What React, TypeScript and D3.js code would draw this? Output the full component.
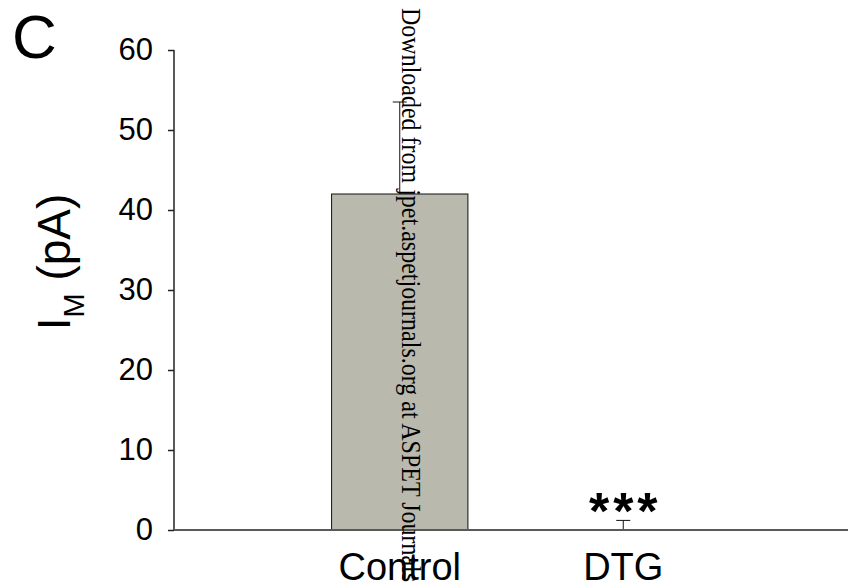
import React, { useEffect, useRef } from "react";
import * as d3 from "d3";

const categories = ["Control", "DTG"];
const means = [42, 0];
const errors = [11.5, 1.2];
const yTicks = [0, 10, 20, 30, 40, 50, 60];
const sigLabels = ["", "***"];

export default function App() {
  const svgRef = useRef<SVGSVGElement>(null);

  useEffect(() => {
    const width = 860, height = 588;
    const svg = d3.select(svgRef.current);
    svg.selectAll("*").remove();
    svg.attr("width", width).attr("height", height);

    const font = "Arial, 'Liberation Sans', sans-serif";

    const y = d3.scaleLinear().domain([0, 60]).range([530, 50]);
    const x = d3.scaleBand()
      .domain(categories)
      .range([288, 735])
      .paddingInner(0.39)
      .paddingOuter(0.195);

    // bars
    svg.selectAll("rect.bar")
      .data(categories.filter((d, i) => means[i] > 0))
      .enter()
      .append("rect")
      .attr("class", "bar")
      .attr("x", d => x(d)!)
      .attr("y", d => y(means[categories.indexOf(d)]))
      .attr("width", x.bandwidth())
      .attr("height", d => y(0) - y(means[categories.indexOf(d)]))
      .attr("fill", "#b9b9ad")
      .attr("stroke", "#111")
      .attr("stroke-width", 1);

    // error bars (upper only)
    categories.forEach((c, i) => {
      const cx = x(c)! + x.bandwidth() / 2;
      const top = y(means[i] + errors[i]);
      svg.append("line")
        .attr("x1", cx).attr("x2", cx)
        .attr("y1", y(means[i])).attr("y2", top)
        .attr("stroke", "#111").attr("stroke-width", 1);
      svg.append("line")
        .attr("x1", cx - 7).attr("x2", cx + 7)
        .attr("y1", top).attr("y2", top)
        .attr("stroke", "#111").attr("stroke-width", 1);
      if (sigLabels[i]) {
        svg.append("text")
          .attr("x", cx + 2)
          .attr("y", 529)
          .attr("text-anchor", "middle")
          .attr("font-family", font)
          .attr("font-weight", "bold")
          .attr("font-size", 52)
          .attr("letter-spacing", 4)
          .text(sigLabels[i]);
      }
      svg.append("text")
        .attr("x", cx)
        .attr("y", 580)
        .attr("text-anchor", "middle")
        .attr("font-family", font)
        .attr("font-size", 38)
        .text(c);
    });

    // y axis
    const yAxis = d3.axisLeft(y).tickValues(yTicks).tickSize(6).tickPadding(15);
    const gy = svg.append("g").attr("transform", "translate(174,0)").call(yAxis);
    gy.select(".domain").attr("stroke", "#222").attr("stroke-width", 1.5).attr("d", "M0,50V530");
    gy.selectAll(".tick line").attr("stroke", "#222").attr("stroke-width", 1.5);
    gy.selectAll(".tick text")
      .attr("font-family", font)
      .attr("font-size", 31)
      .attr("fill", "#000");

    // x axis line
    svg.append("line")
      .attr("x1", 174).attr("x2", 848)
      .attr("y1", y(0)).attr("y2", y(0))
      .attr("stroke", "#595959").attr("stroke-width", 2);

    // y label
    const yl = svg.append("text")
      .attr("transform", "translate(70,262) rotate(-90)")
      .attr("text-anchor", "middle")
      .attr("font-family", font)
      .attr("font-size", 46);
    yl.append("tspan").text("I");
    yl.append("tspan").attr("font-size", 29).attr("dy", 14).text("M");
    yl.append("tspan").attr("dy", -14).text(" (pA)");

    // panel letter
    svg.append("text")
      .attr("x", 12).attr("y", 58)
      .attr("font-family", font)
      .attr("font-size", 62)
      .text("C");

    // watermark
    svg.append("text")
      .attr("transform", "translate(402,8) rotate(90) scale(1,1.12)")
      .attr("font-family", "'Liberation Serif', 'Times New Roman', serif")
      .attr("font-size", 24)
      .attr("fill", "#000")
      .text("Downloaded from jpet.aspetjournals.org at ASPET Journals");
  }, []);

  return (
    <svg ref={svgRef} style={{ position: "absolute", left: 0, top: 0, background: "#fff" }}></svg>
  );
}
